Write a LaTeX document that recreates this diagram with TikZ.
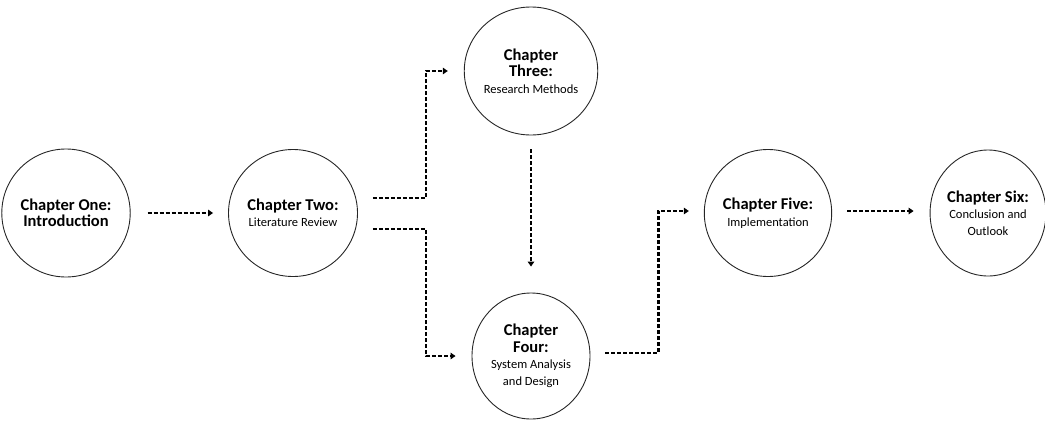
\documentclass[tikz,border=0pt]{standalone}
\usepackage{fontspec}
\setmainfont{Carlito}
\usetikzlibrary{arrows.meta,shapes.geometric}

\tikzset{
  chap/.style={draw=black!85, line width=0.9pt, ellipse, inner sep=0pt,
    minimum width=120pt, minimum height=127pt, align=center,
    font=\fontsize{12.5}{16.5}\selectfont},
  conn/.style={line width=2.1pt, dash pattern=on 4pt off 2pt,
    -{Triangle[length=5pt,width=6.5pt]}},
}
% heading line and description line inside a chapter circle
\newcommand{\hd}[1]{{\fontsize{16.5}{16.5}\selectfont\bfseries #1}}
\newcommand{\sub}[1]{{\fontsize{12.5}{16.5}\selectfont #1}}

\begin{document}
\begin{tikzpicture}[x=1pt,y=-1pt]
  \useasboundingbox (0,0) rectangle (1045,421);

  % chapters
  \node[chap, minimum width=125pt, minimum height=128pt] (c1) at (66,213)
    {\hd{Chapter One:}\\ \hd{Introduction}};
  \node[chap] (c2) at (293,213)
    {\hd{Chapter Two:}\\ \sub{Literature Review}};
  \node[chap, minimum width=118pt, minimum height=128pt] (c3) at (531,71)
    {\hd{Chapter}\\ \hd{Three:}\\ \sub{Research Methods}};
  \node[chap, minimum width=118pt, minimum height=126pt] (c4) at (531,356)
    {\hd{Chapter}\\ \hd{Four:}\\ \sub{System Analysis}\\ \sub{and Design}};
  \node[chap] (c5) at (768,213)
    {\hd{Chapter Five:}\\ \sub{Implementation}};
  \node[chap, minimum width=110pt, minimum height=126pt] (c6) at (988,213)
    {\hd{Chapter Six:}\\ \sub{Conclusion and}\\ \sub{Outlook}};

  % connectors
  \draw[conn] ([xshift=17pt]c1.east) -- ([xshift=-15pt]c2.west);
  \draw[conn] ([xshift=15pt,yshift=15pt]c2.east) -- ++(53,0) |- ([xshift=-16pt]c3.west);
  \draw[conn] ([xshift=15pt,yshift=-16pt]c2.east) -- ++(53,0) |- ([xshift=-16pt]c4.west);
  \draw[conn] ([yshift=-14pt]c3.south) -- ([yshift=26pt]c4.north);
  \draw[conn] ([xshift=15pt,yshift=3pt]c4.east) -- ++(53,0) |- ([xshift=-15pt,yshift=2pt]c5.west);
  \draw[conn] ([xshift=15pt,yshift=2pt]c5.east) -- ([xshift=-16pt,yshift=2pt]c6.west);
\end{tikzpicture}
\end{document}
